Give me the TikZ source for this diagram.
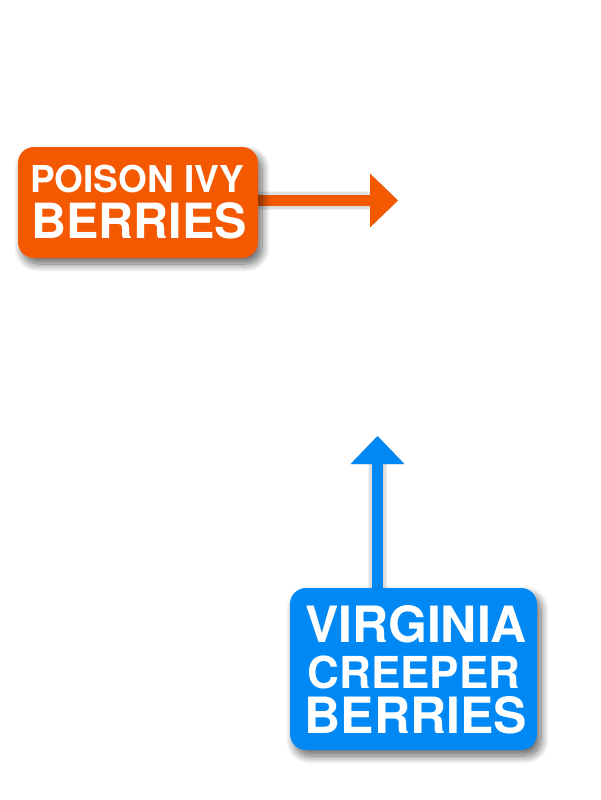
\documentclass[tikz,border=0pt]{standalone}
\usepackage{fontspec}
\setmainfont{TeX Gyre Heros}
\usetikzlibrary{arrows.meta,shadows.blur}
\definecolor{ivyorange}{RGB}{244,88,0}
\definecolor{creeperblue}{RGB}{0,137,245}
\pgfdeclarelayer{bg}
\pgfsetlayers{bg,main}
\begin{document}
\begin{tikzpicture}[x=1pt,y=-1pt,
  tag/.style={fill=#1, rounded corners=16pt, inner sep=0pt, outer sep=0pt,
    blur shadow={shadow xshift=4pt, shadow yshift=-6pt, shadow blur radius=8pt,
      shadow blur steps=14, shadow opacity=60}},
  lbl/.style={text=white, anchor=base, inner sep=0pt, font={\bfseries\fontsize{#1}{#1}\selectfont}},
  conn/.style={draw=#1, line width=11pt, -{Triangle[length=28pt,width=52pt]}},
  connshadow/.style={draw=black, line width=#1, -{Triangle[length=28pt,width=52pt]}, xshift=4pt, yshift=-5pt}
]
\useasboundingbox (0,0) rectangle (600,800);

% boxes
\node[tag=ivyorange, minimum width=240pt, minimum height=111pt] (po) at (138,202.5) {};
\node[lbl=37] (po1) at (137,192) {POISON IVY};
\node[lbl=48.5] (po2) at (139,238) {BERRIES};

\node[tag=creeperblue, minimum width=247pt, minimum height=162pt] (vc) at (413.5,669) {};
\node[lbl=50] (vc1) at (416,642) {VIRGINIA};
\node[lbl=44] (vc2) at (414,688) {CREEPER};
\node[lbl=50] (vc3) at (416,733) {BERRIES};

% arrow tips
\coordinate (ptip) at (398,200.5);
\coordinate (vtip) at (377.5,436);

\begin{pgfonlayer}{bg}
  \begin{scope}[transparency group, opacity=0.12]
    \draw[connshadow=18pt] (po.east |- ptip) -- (ptip);
    \draw[connshadow=18pt] (vc.north -| vtip) -- (vtip);
  \end{scope}
  \begin{scope}[transparency group, opacity=0.3]
    \draw[connshadow=11pt] (po.east |- ptip) -- (ptip);
    \draw[connshadow=11pt] (vc.north -| vtip) -- (vtip);
  \end{scope}
  \draw[conn=ivyorange] (po.east |- ptip) -- (ptip);
  \draw[conn=creeperblue] (vc.north -| vtip) -- (vtip);
\end{pgfonlayer}
\end{tikzpicture}
\end{document}
